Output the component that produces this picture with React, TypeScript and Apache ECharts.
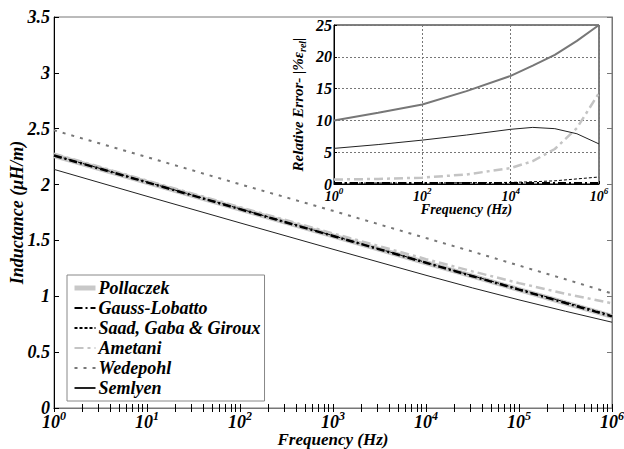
import React, { useEffect, useRef } from "react";
import * as echarts from "echarts";

const FREQ = [1, 10, 100, 1e3, 1e4, 31623, 1e5, 316228, 1e6];
const POLLACZEK = [2.26, 2.02, 1.78, 1.54, 1.3, 1.18, 1.06, 0.94, 0.82];
const GAUSS = [2.26, 2.02, 1.78, 1.54, 1.3, 1.18, 1.06, 0.94, 0.82];
const SAAD = [2.263, 2.023, 1.783, 1.543, 1.303, 1.184, 1.065, 0.947, 0.829];
const AMETANI = [2.276, 2.036, 1.798, 1.563, 1.333, 1.223, 1.118, 1.023, 0.937];
const WEDEPOHL = [2.486, 2.246, 2.003, 1.765, 1.521, 1.4, 1.275, 1.152, 1.025];
const SEMLYEN = [2.136, 1.895, 1.657, 1.421, 1.188, 1.075, 0.968, 0.866, 0.768];

const ERR_GAUSS = [0.1, 0.1, 0.1, 0.1, 0.1, 0.1, 0.1, 0.1, 0.1];
const ERR_SAAD = [0.15, 0.15, 0.15, 0.2, 0.25, 0.35, 0.5, 0.8, 1.1];
const ERR_AMETANI = [0.7, 0.8, 1.0, 1.5, 2.5, 3.6, 5.5, 8.8, 14.3];
const ERR_WEDEPOHL = [10.0, 11.2, 12.5, 14.6, 17.0, 18.6, 20.3, 22.5, 25.0];
const ERR_SEMLYEN = [5.6, 6.2, 6.9, 7.7, 8.6, 8.9, 8.7, 7.9, 6.3];

const MAIN_MAJOR = [1, 10, 100, 1e3, 1e4, 1e5, 1e6];
const INSET_MAJOR = [1, 100, 1e4, 1e6];
const Y_LABELS = ["0", "0.5", "1", "1.5", "2", "2.5", "3", "3.5"];
const LEGEND_NAMES = ["Pollaczek", "Gauss-Lobatto", "Saad, Gaba & Giroux", "Ametani", "Wedepohl", "Semlyen"];

const FONT = "Liberation Serif";
const txt = (size: number) => ({
  fontFamily: FONT,
  fontStyle: "italic" as const,
  fontWeight: "bold" as const,
  fontSize: size,
  color: "#000",
});

const minorTicks: number[] = [];
for (let d = 0; d < 6; d++) {
  for (let k = 1; k < 10; k++) minorTicks.push(k * Math.pow(10, d));
}
minorTicks.push(1e6);

const pts = (ys: number[]) => FREQ.map((f, i) => [f, ys[i]]);

const powLabel = (sz: number, ssz: number) => ({
  formatter: (v: number) => `{b|10}{s|${Math.round(Math.log10(v))}}`,
  rich: {
    b: { ...txt(sz), padding: [4, 0, 0, 0] },
    s: { ...txt(ssz), padding: [0, 0, sz * 0.45, 0] },
  },
});

export default function App() {
  const ref = useRef<HTMLDivElement>(null);
  useEffect(() => {
    if (!ref.current) return;
    const chart = echarts.init(ref.current, null, { renderer: "svg" });
    const mainX = {
      type: "log",
      logBase: 10,
      min: 1,
      max: 1e6,
      gridIndex: 0,
      axisLine: { lineStyle: { color: "#000", width: 1 } },
      axisTick: { inside: true, length: 4, customValues: minorTicks, lineStyle: { color: "#000" } },
      splitLine: { show: false },
      minorTick: { show: false },
    };
    const option: any = {
      animation: false,
      backgroundColor: "#fff",
      textStyle: { fontFamily: FONT },
      grid: [
        { left: 54, right: 12, top: 17, bottom: 41, show: true, borderColor: "#777", borderWidth: 1, backgroundColor: "#fff", outerBoundsMode: "none" },
        { left: 334, right: 25, top: 25, bottom: 265, show: true, borderColor: "#000", borderWidth: 1, backgroundColor: "#fff", outerBoundsMode: "none", z: 5 },
      ],
      xAxis: [
        {
          ...mainX,
          position: "bottom",
          name: "Frequency (Hz)",
          nameLocation: "middle",
          nameGap: 23,
          nameMoveOverlap: false,
          nameTextStyle: txt(17),
          axisLabel: { ...powLabel(18, 12), margin: 1, customValues: MAIN_MAJOR },
        },
        {
          ...mainX,
          position: "top",
          axisLine: { lineStyle: { color: "#777", width: 1 } },
          axisLabel: { show: false },
        },
        {
          type: "log",
          logBase: 10,
          min: 1,
          max: 1e6,
          gridIndex: 1,
          z: 6,
          name: "Frequency (Hz)",
          nameLocation: "middle",
          nameGap: 18,
          nameMoveOverlap: false,
          nameTextStyle: txt(14),
          axisLine: { lineStyle: { color: "#000" } },
          axisTick: { inside: true, length: 3, customValues: INSET_MAJOR, lineStyle: { color: "#000" } },
          axisLabel: { ...powLabel(14, 9), margin: 1, customValues: INSET_MAJOR },
          splitLine: { show: true, lineStyle: { color: "#777", type: [2, 2], width: 1 } },
          minorTick: { show: false },
        },
      ],
      yAxis: [
        {
          type: "value",
          gridIndex: 0,
          min: 0,
          max: 3.5,
          interval: 0.5,
          name: "Inductance (μH/m)",
          nameLocation: "middle",
          nameGap: 28,
          nameMoveOverlap: false,
          nameTextStyle: txt(18),
          axisLine: { show: true, lineStyle: { color: "#000" } },
          axisTick: { show: true, inside: true, length: 5, lineStyle: { color: "#000" } },
          axisLabel: { ...txt(18), margin: 4, formatter: (v: number) => Y_LABELS[Math.round(v * 2)] },
          splitLine: { show: false },
        },
        {
          type: "value",
          gridIndex: 0,
          position: "right",
          min: 0,
          max: 3.5,
          interval: 0.5,
          axisLine: { show: true, lineStyle: { color: "#777" } },
          axisTick: { show: true, inside: true, length: 5, lineStyle: { color: "#777" } },
          axisLabel: { show: false },
          splitLine: { show: false },
        },
        {
          type: "value",
          gridIndex: 1,
          min: 0,
          max: 25,
          interval: 5,
          z: 6,
          name: "{n|Relative Error- |%ε}{s|rel}{n||}",
          nameLocation: "middle",
          nameGap: 27,
          nameMoveOverlap: false,
          nameTextStyle: {
            ...txt(15),
            rich: { n: { ...txt(15) }, s: { ...txt(10), padding: [8, 0, 0, 0] } },
          },
          axisLine: { show: true, lineStyle: { color: "#000" } },
          axisTick: { show: true, inside: true, length: 3, lineStyle: { color: "#000" } },
          axisLabel: { ...txt(16), margin: 2 },
          splitLine: { show: true, lineStyle: { color: "#777", type: [2, 2], width: 1 } },
        },
      ],
      legend: {
        left: 67,
        top: 275,
        orient: "vertical",
        padding: [4, 4, 4, 5],
        itemGap: 2,
        itemWidth: 21,
        itemHeight: 14,
        backgroundColor: "#fff",
        borderColor: "#888",
        borderWidth: 1,
        borderRadius: 0,
        itemStyle: { opacity: 0 },
        textStyle: { ...txt(18), padding: [0, 0, 0, -2] },
        data: LEGEND_NAMES.map((n) =>
          n === "Pollaczek" ? { name: n, lineStyle: { width: 5, color: "#c8c8c8" } } : { name: n }
        ),
      },
      series: [
        { name: "Pollaczek", type: "line", xAxisIndex: 0, yAxisIndex: 0, symbol: "none", data: pts(POLLACZEK), lineStyle: { color: "#c8c8c8", width: 5 }, itemStyle: { color: "#c8c8c8" } },
        { name: "Ametani", type: "line", xAxisIndex: 0, yAxisIndex: 0, symbol: "none", data: pts(AMETANI), lineStyle: { color: "#c4c4c4", width: 2.5, type: [9, 4, 3, 4] }, itemStyle: { color: "#c4c4c4" } },
        { name: "Wedepohl", type: "line", xAxisIndex: 0, yAxisIndex: 0, symbol: "none", data: pts(WEDEPOHL), lineStyle: { color: "#777", width: 2, type: [3, 6] }, itemStyle: { color: "#777" } },
        { name: "Semlyen", type: "line", xAxisIndex: 0, yAxisIndex: 0, symbol: "none", data: pts(SEMLYEN), lineStyle: { color: "#222", width: 1 }, itemStyle: { color: "#222" } },
        { name: "Saad, Gaba & Giroux", type: "line", xAxisIndex: 0, yAxisIndex: 0, symbol: "none", data: pts(SAAD), lineStyle: { color: "#000", width: 1, type: [3, 2] }, itemStyle: { color: "#000" } },
        { name: "Gauss-Lobatto", type: "line", xAxisIndex: 0, yAxisIndex: 0, symbol: "none", data: pts(GAUSS), lineStyle: { color: "#000", width: 2.5, type: [8, 3, 2, 3] }, itemStyle: { color: "#000" } },

        { name: "Ametani", type: "line", xAxisIndex: 2, yAxisIndex: 2, z: 7, symbol: "none", data: pts(ERR_AMETANI), lineStyle: { color: "#c4c4c4", width: 2.5, type: [9, 4, 3, 4] } },
        { name: "Wedepohl", type: "line", xAxisIndex: 2, yAxisIndex: 2, z: 7, symbol: "none", data: pts(ERR_WEDEPOHL), lineStyle: { color: "#777", width: 2 } },
        { name: "Semlyen", type: "line", xAxisIndex: 2, yAxisIndex: 2, z: 7, symbol: "none", data: pts(ERR_SEMLYEN), lineStyle: { color: "#222", width: 1 } },
        { name: "Saad, Gaba & Giroux", type: "line", xAxisIndex: 2, yAxisIndex: 2, z: 7, symbol: "none", data: pts(ERR_SAAD), lineStyle: { color: "#000", width: 1, type: [3, 2] } },
        { name: "Gauss-Lobatto", type: "line", xAxisIndex: 2, yAxisIndex: 2, z: 7, symbol: "none", data: pts(ERR_GAUSS), lineStyle: { color: "#000", width: 2.5, type: [8, 3, 2, 3] } },
      ],
    };
    chart.setOption(option);
    return () => chart.dispose();
  }, []);
  return <div ref={ref} style={{ width: 624, height: 449, position: "absolute", left: 0, top: 0 }} />;
}
